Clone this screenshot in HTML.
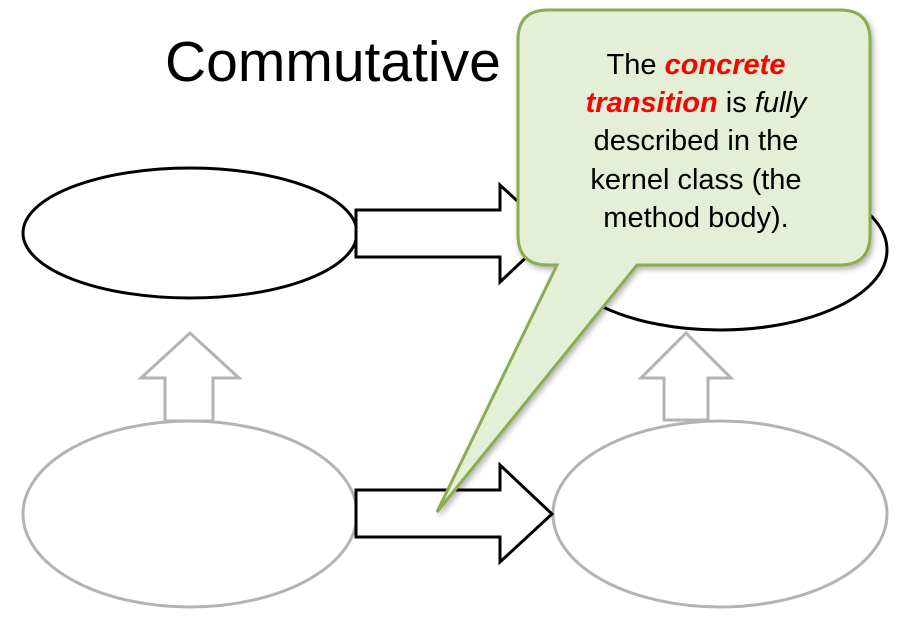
<!DOCTYPE html>
<html><head><meta charset="utf-8"><style>
html,body{margin:0;padding:0;background:#fff;width:912px;height:644px;overflow:hidden}
svg{display:block}
</style></head><body>
<svg width="912" height="644" viewBox="0 0 912 644" xmlns="http://www.w3.org/2000/svg" font-family="Liberation Sans, Arial, sans-serif">
<defs>
<filter id="sh" x="-10%" y="-10%" width="130%" height="130%"><feDropShadow dx="2" dy="3" stdDeviation="3" flood-color="#000" flood-opacity="0.3"/></filter>
</defs>
<text x="165" y="81" font-size="57" fill="#000">Commutative</text>
<ellipse cx="190" cy="233" rx="167" ry="65" fill="#fff" stroke="#000" stroke-width="3"/>
<ellipse cx="720" cy="250" rx="167" ry="80" fill="#fff" stroke="#000" stroke-width="3"/>
<polygon points="356,210 500,210 500,185 552,233 500,282 500,257 356,257" fill="#fff" stroke="#000" stroke-width="3"/>
<ellipse cx="190" cy="514" rx="167" ry="93" fill="#fff" stroke="#b3b3b3" stroke-width="3"/>
<ellipse cx="720" cy="514" rx="167" ry="93" fill="#fff" stroke="#b3b3b3" stroke-width="3"/>
<polygon points="356,490 500,490 500,465 552,514 500,562 500,537 356,537" fill="#fff" stroke="#000" stroke-width="3"/>
<polygon points="165,421 165,378 141,378 190,333 239,378 213,378 213,421" fill="#fff" stroke="#b3b3b3" stroke-width="3"/>
<polygon points="664,420 664,378 641,378 686,333 731,378 708,378 708,420" fill="#fff" stroke="#b3b3b3" stroke-width="3"/>
<path d="M548,10 H840 Q870,10 870,40 V235 Q870,265 840,265 H637 L437,512 L557,265 H548 Q518,265 518,235 V40 Q518,10 548,10 Z" fill="#e5eed6" stroke="#8aae50" stroke-width="3" filter="url(#sh)"/>
<g font-size="29" text-anchor="middle" fill="#000">
<text x="696" y="74">The <tspan fill="#f00" font-weight="bold" font-style="italic">concrete</tspan></text>
<text x="696" y="112"><tspan fill="#f00" font-weight="bold" font-style="italic">transition</tspan> is <tspan font-style="italic">fully</tspan></text>
<text x="696" y="150">described in the</text>
<text x="696" y="189">kernel class (the</text>
<text x="696" y="227">method body).</text>
</g>
</svg>
</body></html>
